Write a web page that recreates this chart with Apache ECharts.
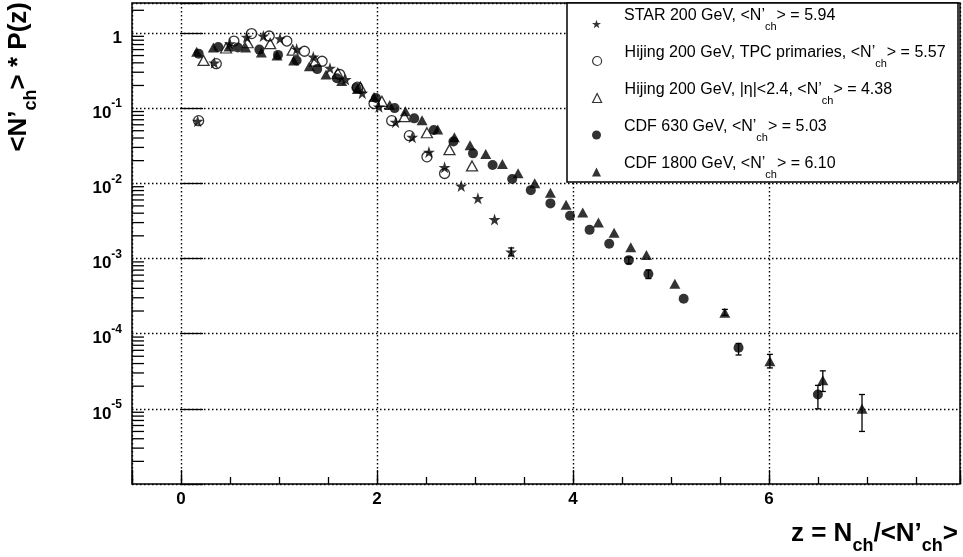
<!DOCTYPE html>
<html>
<head>
<meta charset="utf-8">
<script src="https://cdn.jsdelivr.net/npm/echarts@6/dist/echarts.min.js"></script>
<style>
  html, body { margin: 0; padding: 0; background: #fff; }
  #chart { width: 963px; height: 557px; }
</style>
</head>
<body>
<div id="chart"></div>
<script>
// STAR 200 GeV
const starZ = [0.17, 0.34, 0.50, 0.67, 0.84, 1.01, 1.18, 1.35, 1.52, 1.68, 1.85, 2.02, 2.19, 2.36, 2.53, 2.69, 2.86, 3.03, 3.20, 3.37]
const starP = [0.067, 0.40, 0.72, 0.88, 0.91, 0.84, 0.61, 0.48, 0.34, 0.24, 0.158, 0.104, 0.065, 0.041, 0.026, 0.0163, 0.0092, 0.0063, 0.0033, 0.00122]
// Hijing 200 GeV, TPC primaries
const tpcZ = [0.18, 0.36, 0.54, 0.72, 0.90, 1.08, 1.26, 1.44, 1.62, 1.80, 1.97, 2.15, 2.33, 2.51, 2.69]
const tpcP = [0.068, 0.39, 0.78, 0.98, 0.91, 0.78, 0.57, 0.42, 0.28, 0.19, 0.115, 0.068, 0.043, 0.0225, 0.0135]
// Hijing 200 GeV, |eta|<2.4
const etaZ = [0.23, 0.46, 0.68, 0.91, 1.14, 1.37, 1.60, 1.83, 2.05, 2.28, 2.51, 2.74, 2.97]
const etaP = [0.43, 0.63, 0.74, 0.72, 0.59, 0.42, 0.29, 0.19, 0.123, 0.077, 0.047, 0.028, 0.017]
// CDF 630 GeV
const cdf630Z = [0.18, 0.38, 0.58, 0.80, 0.99, 1.18, 1.39, 1.59, 1.79, 1.99, 2.18, 2.38, 2.58, 2.78, 2.98, 3.18, 3.38, 3.57, 3.77, 3.97, 4.17, 4.37, 4.57, 4.77, 5.13, 5.69, 6.50]
const cdf630P = [0.53, 0.65, 0.64, 0.60, 0.51, 0.43, 0.33, 0.25, 0.187, 0.136, 0.10, 0.073, 0.051, 0.036, 0.025, 0.0175, 0.0114, 0.0081, 0.0054, 0.0037, 0.0024, 0.00157, 0.00095, 0.00062, 0.000291, 0.000065, 0.0000155]
// CDF 1800 GeV
const cdf1800Z = [0.16, 0.33, 0.49, 0.66, 0.82, 0.98, 1.15, 1.31, 1.48, 1.64, 1.80, 1.97, 2.13, 2.29, 2.46, 2.62, 2.79, 2.95, 3.11, 3.28, 3.44, 3.61, 3.77, 3.93, 4.10, 4.26, 4.42, 4.59, 4.75, 5.04, 5.55, 6.01, 6.55, 6.95]
const cdf1800P = [0.56, 0.64, 0.66, 0.64, 0.55, 0.50, 0.43, 0.36, 0.28, 0.23, 0.18, 0.14, 0.11, 0.091, 0.069, 0.052, 0.041, 0.032, 0.0246, 0.018, 0.0136, 0.0100, 0.0075, 0.0052, 0.0041, 0.0030, 0.0022, 0.00141, 0.00111, 0.00046, 0.00019, 0.000043, 0.000024, 0.0000100]

// error bars: [z, low, high]
const starErr = [[3.37, 0.00108, 0.00138]]
const cdf630Err = [[4.57, 0.00085, 0.00104], [4.77, 0.00054, 0.00070], [5.69, 0.000052, 0.000074], [6.50, 0.0000100, 0.0000205]]
const cdf1800Err = [[5.55, 0.000175, 0.00021], [6.01, 0.000035, 0.000053], [6.55, 0.000017, 0.000032], [6.95, 0.0000050, 0.0000155]]

const xMin = -0.5
const xMax = 7.95
const yMin = 1e-6
const yMax = 2.5
const xTickLabels = [0, 2, 4, 6]

const starPath = 'path://M50,0 L61.8,35.1 L98.9,35.1 L68.9,56.9 L80.3,92.1 L50,70.4 L19.7,92.1 L31.1,56.9 L1.1,35.1 L38.2,35.1 Z'
const font = 'Liberation Sans'

const zip = (xs, ys) => xs.map((x, i) => [x, ys[i]])

// log minor ticks on the left axis (2..9 per decade)
const yMinorTicks = []
for (let k = -6; k <= 0; k++) {
  for (let m = 2; m <= 9; m++) {
    const v = m * Math.pow(10, k)
    if (v < yMax) yMinorTicks.push([xMin, v])
  }
}

function errorBars(data) {
  return {
    type: 'custom',
    data: data,
    silent: true,
    z: 1,
    renderItem: (params, api) => {
      const x = api.value(0)
      const top = api.coord([x, api.value(2)])
      const bot = api.coord([x, api.value(1)])
      const w = 3
      const st = { stroke: '#000', lineWidth: 1.3 }
      return {
        type: 'group',
        children: [
          { type: 'line', shape: { x1: top[0], y1: top[1], x2: bot[0], y2: bot[1] }, style: st },
          { type: 'line', shape: { x1: top[0] - w, y1: top[1], x2: top[0] + w, y2: top[1] }, style: st },
          { type: 'line', shape: { x1: bot[0] - w, y1: bot[1], x2: bot[0] + w, y2: bot[1] }, style: st }
        ]
      }
    }
  }
}

const legendItems = [
  { name: 'STAR', icon: starPath, itemStyle: { color: '#000', borderWidth: 0 } },
  { name: 'TPC', icon: 'circle', itemStyle: { color: 'rgba(0,0,0,0)', borderColor: '#000', borderWidth: 1.2 } },
  { name: 'ETA', icon: 'triangle', itemStyle: { color: 'rgba(0,0,0,0)', borderColor: '#000', borderWidth: 1.2 } },
  { name: 'CDF630', icon: 'circle', itemStyle: { color: '#000', borderWidth: 0 } },
  { name: 'CDF1800', icon: 'triangle', itemStyle: { color: '#000', borderWidth: 0 } }
]
const legendText = {
  STAR: '{t|STAR 200 GeV, <N’}{s|ch}{t|> = 5.94}',
  TPC: '{t|Hijing 200 GeV, TPC primaries, <N’}{s|ch}{t|> = 5.57}',
  ETA: '{t|Hijing 200 GeV, |η|<2.4, <N’}{s|ch}{t|> = 4.38}',
  CDF630: '{t|CDF 630 GeV, <N’}{s|ch}{t|> = 5.03}',
  CDF1800: '{t|CDF 1800 GeV, <N’}{s|ch}{t|> = 6.10}'
}

const chart = echarts.init(document.getElementById('chart'), null, { renderer: 'canvas' })

const dotted = { color: '#000', width: 1.4, type: [1.5, 2.5] }

// one legend per row, so the row spacing is fixed
const legends = legendItems.map((item, i) => ({
  orient: 'vertical', left: 592, top: 8 + i * 37, padding: 0,
  itemWidth: 9, itemHeight: 9, z: 6,
  data: [item],
  formatter: (name) => legendText[name],
  textStyle: {
    padding: [6, 0, 0, 18],
    rich: {
      t: { fontFamily: font, fontSize: 16, color: '#000', lineHeight: 16, verticalAlign: 'top' },
      s: { fontFamily: font, fontSize: 11, color: '#000', lineHeight: 38 }
    }
  }
}))

const titleRich = {
  m: { fontFamily: font, fontWeight: 'bold', fontSize: 26, fill: '#000', lineHeight: 26, verticalAlign: 'top' },
  s: { fontFamily: font, fontWeight: 'bold', fontSize: 18, fill: '#000', lineHeight: 50 }
}

const option = {
  backgroundColor: '#fff',
  animation: false,
  grid: {
    left: 132, right: 3, top: 3, bottom: 73,
    show: true, borderColor: '#000', borderWidth: 1.5, backgroundColor: 'transparent'
  },
  xAxis: [
    {
      type: 'value', min: xMin, max: xMax, position: 'bottom',
      axisLine: { show: false },
      axisTick: { inside: true, length: 14, lineStyle: { color: '#000', width: 1.3 } },
      splitLine: { show: true, lineStyle: dotted },
      axisLabel: {
        margin: 7,
        fontFamily: font, fontWeight: 'bold', fontSize: 17, color: '#000',
        formatter: (v) => (xTickLabels.some((t) => Math.abs(t - v) < 1e-9) ? String(Math.round(v)) : '')
      }
    },
    {
      type: 'value', min: xMin, max: xMax, interval: 0.5, position: 'bottom',
      axisLine: { show: false },
      axisTick: { inside: true, length: 7, lineStyle: { color: '#000', width: 1.3 } },
      splitLine: { show: false },
      axisLabel: { show: false }
    }
  ],
  yAxis: {
    type: 'log', logBase: 10, min: yMin, max: yMax,
    axisLine: { show: false },
    axisTick: { inside: true, length: 22, lineStyle: { color: '#000', width: 1.3 } },
    splitLine: { show: true, lineStyle: dotted },
    minorTick: { show: false },
    axisLabel: {
      margin: 10,
      padding: [10, 0, 0, 0],
      formatter: (v) => {
        const e = Math.log10(v)
        const r = Math.round(e)
        if (Math.abs(e - r) > 1e-6 || r < -5 || r > 0) return ''
        if (r === 0) return '{b|1}'
        return '{b|10}{s|' + r + '}'
      },
      rich: {
        b: { fontFamily: font, fontWeight: 'bold', fontSize: 17, color: '#000', lineHeight: 30 },
        s: { fontFamily: font, fontWeight: 'bold', fontSize: 12, color: '#000', lineHeight: 12, verticalAlign: 'top' }
      }
    }
  },
  legend: legends,
  graphic: [
    {
      type: 'rect', z: 5, silent: true,
      shape: { x: 567, y: 3, width: 391, height: 179 },
      style: { fill: '#fff', stroke: '#000', lineWidth: 1.5 }
    },
    {
      type: 'text', z: 6, x: 958, y: 546,
      style: {
        text: '{m|z = N}{s|ch}{m|/<N’}{s|ch}{m|>}',
        align: 'right', verticalAlign: 'middle',
        rich: titleRich
      }
    },
    {
      type: 'text', z: 6, x: 31, y: 2, rotation: Math.PI / 2,
      style: {
        text: '{m|<N’}{s|ch}{m|> * P(z)}',
        align: 'right', verticalAlign: 'middle',
        rich: titleRich
      }
    }
  ],
  series: [
    {
      type: 'custom', data: yMinorTicks, silent: true, z: 3,
      renderItem: (params, api) => {
        const p = api.coord([api.value(0), api.value(1)])
        return { type: 'line', shape: { x1: p[0], y1: p[1], x2: p[0] + 12, y2: p[1] }, style: { stroke: '#000', lineWidth: 1.3 } }
      }
    },
    errorBars(starErr),
    errorBars(cdf630Err),
    errorBars(cdf1800Err),
    {
      name: 'CDF1800', type: 'scatter', data: zip(cdf1800Z, cdf1800P),
      symbol: 'triangle', symbolSize: [11, 10],
      itemStyle: { color: '#000', borderWidth: 0 }
    },
    {
      name: 'CDF630', type: 'scatter', data: zip(cdf630Z, cdf630P),
      symbol: 'circle', symbolSize: 10,
      itemStyle: { color: '#000', borderWidth: 0 }
    },
    {
      name: 'ETA', type: 'scatter', data: zip(etaZ, etaP),
      symbol: 'triangle', symbolSize: [11, 10],
      itemStyle: { color: 'rgba(0,0,0,0)', borderColor: '#000', borderWidth: 1.3 }
    },
    {
      name: 'TPC', type: 'scatter', data: zip(tpcZ, tpcP),
      symbol: 'circle', symbolSize: 10,
      itemStyle: { color: 'rgba(0,0,0,0)', borderColor: '#000', borderWidth: 1.3 }
    },
    {
      name: 'STAR', type: 'scatter', data: zip(starZ, starP),
      symbol: starPath, symbolSize: 12,
      itemStyle: { color: '#000', borderWidth: 0 }
    }
  ]
}

chart.setOption(option)
</script>
</body>
</html>
